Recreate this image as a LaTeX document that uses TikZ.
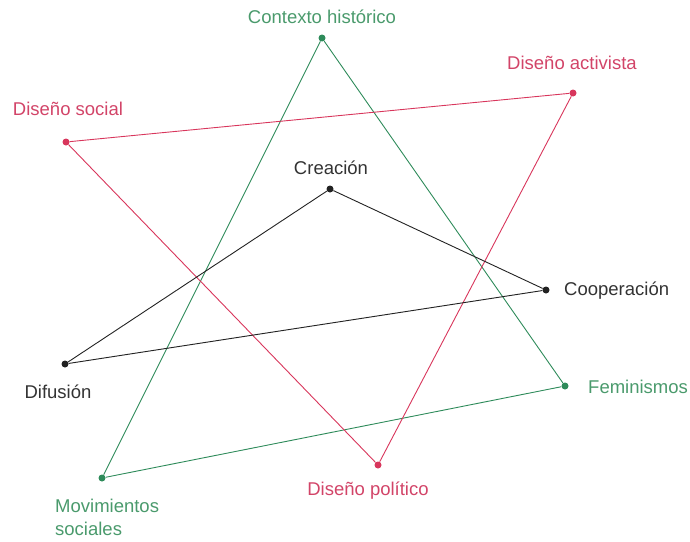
\documentclass[tikz,border=0pt]{standalone}
\usepackage{fontspec}
\setmainfont{Liberation Sans}
\usetikzlibrary{positioning}
\definecolor{verde}{HTML}{2E8B5A}
\definecolor{verdetxt}{HTML}{4A9A6C}
\definecolor{rojo}{HTML}{D8365C}
\definecolor{rojotxt}{HTML}{D24468}
\definecolor{negro}{HTML}{222222}
\definecolor{negrotxt}{HTML}{333333}
\tikzset{
    punto/.style={circle, fill=#1, inner sep=0pt, minimum size=7pt},
    linea/.style={draw=#1, line width=0.9pt},
    etiqueta/.style={font=\fontsize{18.5}{23}\selectfont, text=#1, inner sep=0pt, align=left}
}

\begin{document}
\begin{tikzpicture}[x=1pt, y=-1pt]
    \useasboundingbox (0,0) rectangle (690,541);
    % puntos
    \node[punto=verde] (ctx) at (322, 38) {};
    \node[punto=verde] (fem) at (565, 386) {};
    \node[punto=verde] (mov) at (102, 478) {};
    \node[punto=rojo] (dsoc) at (66, 142) {};
    \node[punto=rojo] (dact) at (573, 93) {};
    \node[punto=rojo] (dpol) at (378, 465) {};
    \node[punto=negro] (cre) at (330, 189) {};
    \node[punto=negro] (coo) at (546, 290) {};
    \node[punto=negro] (dif) at (65, 364) {};
    % triangulos
    \draw[linea=verde] (ctx) -- (fem) -- (mov) -- (ctx);
    \draw[linea=rojo] (dsoc) -- (dact) -- (dpol) -- (dsoc);
    \draw[linea=negro] (cre) -- (coo) -- (dif) -- (cre);
    % etiquetas
    \node[etiqueta=verdetxt] (lctx) at (322, 17) {Contexto histórico};
    \node[etiqueta=verdetxt, anchor=west] (lfem) at (588, 387) {Feminismos};
    \node[etiqueta=verdetxt, anchor=north west] (lmov) at (55, 499) {Movimientos\\sociales};
    \node[etiqueta=rojotxt] (ldsoc) at (68, 109) {Diseño social};
    \node[etiqueta=rojotxt] (ldact) at (572, 63) {Diseño activista};
    \node[etiqueta=rojotxt] (ldpol) at (368, 491) {Diseño político};
    \node[etiqueta=negrotxt] (lcre) at (331, 168) {Creación};
    \node[etiqueta=negrotxt, anchor=west] (lcoo) at (564, 291) {Cooperación};
    \node[etiqueta=negrotxt] (ldif) at (58, 392) {Difusión};
\end{tikzpicture}
\end{document}
